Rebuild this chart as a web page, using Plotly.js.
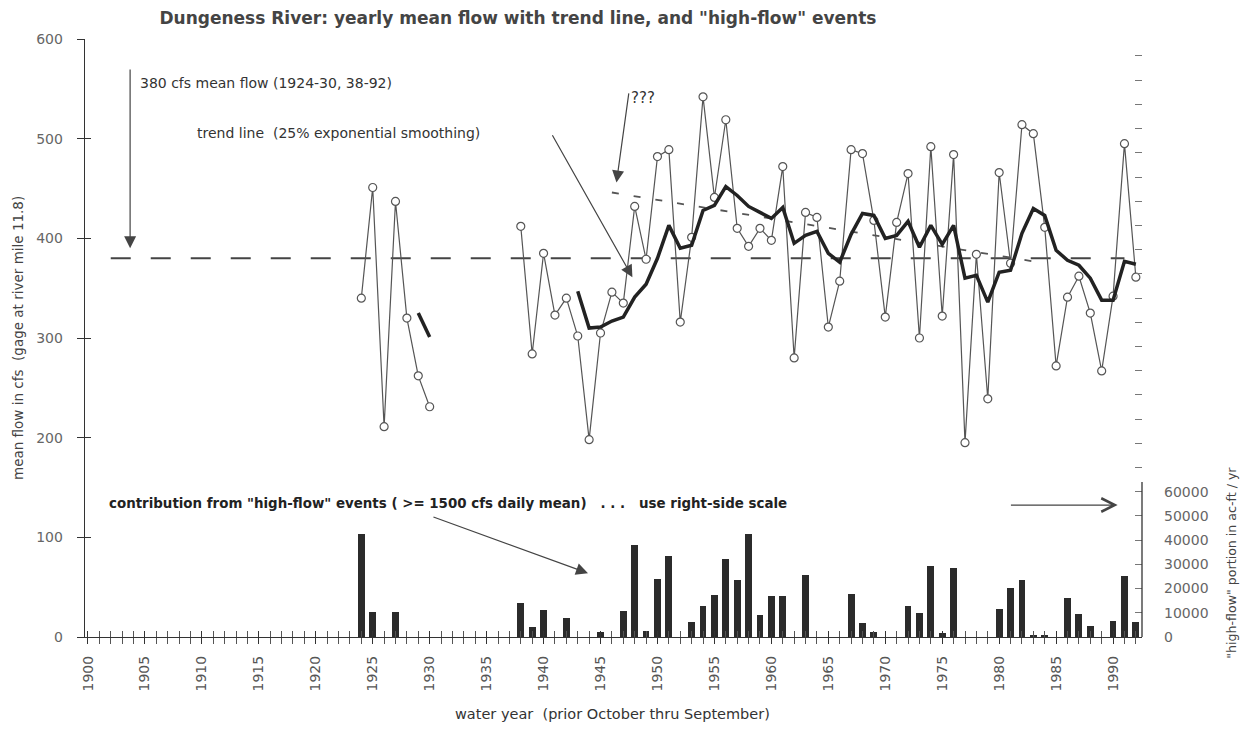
<!DOCTYPE html>
<html>
<head>
<meta charset="utf-8">
<script src="https://cdn.plot.ly/plotly-3.0.1.min.js"></script>
<style>html,body{margin:0;padding:0;background:#fff}#chart{width:1243px;height:729px}</style>
</head>
<body>
<div id="chart"></div>
<script>
// ---- data ----
const flowYears = [1924,1925,1926,1927,1928,1929,1930,1931,1932,1933,1934,1935,1936,1937,
  1938,1939,1940,1941,1942,1943,1944,1945,1946,1947,1948,1949,1950,1951,1952,1953,1954,1955,
  1956,1957,1958,1959,1960,1961,1962,1963,1964,1965,1966,1967,1968,1969,1970,1971,1972,1973,
  1974,1975,1976,1977,1978,1979,1980,1981,1982,1983,1984,1985,1986,1987,1988,1989,1990,1991,1992];
const meanFlow = [340,451,211,437,320,262,231,null,null,null,null,null,null,null,
  412,284,385,323,340,302,198,305,346,335,432,379,482,489,316,401,542,441,
  519,410,392,410,398,472,280,426,421,311,357,489,485,418,321,416,465,300,
  492,322,484,195,384,239,466,375,514,505,411,272,341,362,325,267,342,495,361];

const trendYearsA = [1929,1930];
const trendA = [325,301];
const trendYearsB = [1943,1944,1945,1946,1947,1948,1949,1950,1951,1952,1953,1954,1955,1956,1957,
  1958,1959,1960,1961,1962,1963,1964,1965,1966,1967,1968,1969,1970,1971,1972,1973,1974,1975,
  1976,1977,1978,1979,1980,1981,1982,1983,1984,1985,1986,1987,1988,1989,1990,1991,1992];
const trendB = [347,310,311,317,321,341,354,380,413,390,393,428,433,452,443,
  432,426,420,431,395,403,407,385,376,404,425,423,400,403,417,391,413,394,
  413,360,363,336,366,368,405,430,423,388,378,373,360,338,338,377,374];

const meanLineYears = [1902,1991];
const meanLineValue = [380,380];
const linTrendYears = [1946,1984];
const linTrendValues = [446,375];

const highFlowYears = [1924,1925,1927,1938,1939,1940,1942,1945,1947,1948,1949,1950,1951,1953,1954,
  1955,1956,1957,1958,1959,1960,1961,1963,1967,1968,1969,1972,1973,1974,1975,1976,1980,1981,
  1982,1983,1984,1986,1987,1988,1990,1991,1992];
const highFlow = [42600,10200,10200,13900,4000,11300,7900,1900,10800,38000,2600,24000,33400,6100,12700,
  17400,32300,23700,42600,9100,17100,17100,25700,17800,5700,1900,12700,9800,29200,1500,28400,11600,20100,
  23700,1000,1000,16000,9500,4700,6800,25100,6100];

const leftTicks = [0,100,200,300,400,500,600];
const rightTickLabels = ['0','10000','20000','30000','40000','50000','60000'];

// ---- build ----
const ink = '#333';
const FONT = 'DejaVu Sans';

const rightVals = [], rightText = [];
for (let v = 0; v <= 240000; v += 10000) {
  rightVals.push(v);
  const i = v / 10000;
  rightText.push(i < rightTickLabels.length ? rightTickLabels[i] : '');
}

const xRange = [1899.74, 1992.54];

const traces = [
  { type:'bar', x: highFlowYears, y: highFlow, yaxis:'y2', width:0.6,
    marker:{color:'#2b2b2b', line:{width:0}}, hoverinfo:'skip' },
  { type:'scatter', mode:'lines', x: meanLineYears, y: meanLineValue,
    line:{color:'#444', width:2, dash:'20px,20px'}, hoverinfo:'skip' },
  { type:'scatter', mode:'lines', x: linTrendYears, y: linTrendValues,
    line:{color:'#555', width:1.8, dash:'7px,15px'}, hoverinfo:'skip' },
  { type:'scatter', mode:'lines+markers', x: flowYears, y: meanFlow, connectgaps:false,
    line:{color:'#555', width:1.2},
    marker:{symbol:'circle', size:8, color:'#fff', line:{color:'#555', width:1.2}} },
  { type:'scatter', mode:'lines', x: trendYearsA, y: trendA, line:{color:'#222', width:3.5} },
  { type:'scatter', mode:'lines', x: trendYearsB, y: trendB, line:{color:'#222', width:3.5} },
  { type:'scatter', mode:'lines', x: [], y: [], xaxis:'x2', yaxis:'y3', hoverinfo:'skip' }
];

function arrow(hx, hy, tx, ty, head, size) {
  return { x:hx, y:hy, ax:tx, ay:ty, xref:'x', yref:'y', axref:'x', ayref:'y', text:'',
    showarrow:true, arrowhead:head, arrowsize:size, arrowwidth:1.2, arrowcolor:'#444', standoff:0 };
}

const annotations = [
  arrow(1903.7, 390, 1903.7, 571, 2, 2),
  arrow(1947.8, 361, 1940.7, 505, 2, 2),
  arrow(1946.4, 456, 1947.5, 547, 2, 2),
  arrow(1943.9, 64, 1930.2, 121, 2, 2),
  arrow(1990.4, 132.4, 1980.9, 132.4, 5, 2.2),
  { x:1904.4, y:555.7, xref:'x', yref:'y', xanchor:'left', yanchor:'middle', showarrow:false,
    text:'380 cfs mean flow (1924-30, 38-92)', font:{family:FONT, size:14, color:ink} },
  { x:1909.4, y:505.5, xref:'x', yref:'y', xanchor:'left', yanchor:'middle', showarrow:false,
    text:'trend line  (25% exponential smoothing)', font:{family:FONT, size:14, color:ink} },
  { x:1948.7, y:541, xref:'x', yref:'y', xanchor:'center', yanchor:'middle', showarrow:false,
    text:'???', font:{family:FONT, size:15, color:ink} },
  { x:1901.7, y:134.4, xref:'x', yref:'y', xanchor:'left', yanchor:'middle', showarrow:false,
    text:'contribution from "high-flow" events ( >= 1500 cfs daily mean)   . . .   use right-side scale',
    font:{family:FONT, size:13.4, color:'#222', weight:'bold'} },
  { x:-0.0634, y:0.5, xref:'paper', yref:'paper', xanchor:'center', yanchor:'middle', showarrow:false,
    textangle:-90, text:'mean flow in cfs  (gage at river mile 11.8)', font:{family:FONT, size:13.5, color:'#444'} },
  { x:1.085, y:0.124, xref:'paper', yref:'paper', xanchor:'center', yanchor:'middle', showarrow:false,
    textangle:-90, text:'"high-flow" portion in ac-ft / yr', font:{family:FONT, size:12.6, color:'#444'} },
  { x:0.4986, y:-0.1288, xref:'paper', yref:'paper', xanchor:'center', yanchor:'middle', showarrow:false,
    text:'water year  (prior October thru September)', font:{family:FONT, size:14.5, color:'#333'} }
];

const layout = {
  width:1243, height:729,
  margin:{l:85, r:101, t:39, b:92, pad:0},
  paper_bgcolor:'#fff', plot_bgcolor:'#fff',
  showlegend:false,
  bargap:0,
  font:{family:FONT, color:'#555'},
  title:{ text:'Dungeness River: yearly mean flow with trend line, and "high-flow" events',
    x:0.4167, xref:'container', xanchor:'center', y:0.975, yref:'container', yanchor:'middle',
    font:{family:FONT, size:17, color:'#444', weight:'bold'} },
  xaxis:{ range:xRange, showgrid:false, zeroline:false, showline:true, linecolor:'#333', linewidth:1.3,
    tickmode:'linear', tick0:1900, dtick:5, ticks:'outside', ticklen:6, tickcolor:'#333', tickwidth:1,
    tickangle:-90, tickfont:{family:FONT, size:14, color:'#555'}, ticklabelstandoff:6,
    minor:{dtick:1, tick0:1900, ticks:'outside', ticklen:6, tickcolor:'#555', tickwidth:1} },
  xaxis2:{ range:xRange, overlaying:'x', anchor:'y3', showgrid:false, zeroline:false, showline:false,
    showticklabels:false, tickmode:'linear', tick0:1900, dtick:5, ticks:'inside', ticklen:6, tickcolor:'#333',
    minor:{dtick:1, tick0:1900, ticks:'inside', ticklen:6, tickcolor:'#555', tickwidth:1} },
  yaxis:{ range:[0,600], showgrid:false, zeroline:false, showline:true, linecolor:'#333', linewidth:1.3,
    tickmode:'array', tickvals:leftTicks, ticks:'outside', ticklen:7, tickcolor:'#333',
    tickfont:{family:FONT, size:14, color:'#666'}, ticklabelstandoff:11 },
  yaxis3:{ range:[0,600], overlaying:'y', side:'left', showgrid:false, zeroline:false, showline:false,
    showticklabels:false, tickmode:'array', tickvals:leftTicks, ticks:'inside', ticklen:6, tickcolor:'#333' },
  yaxis2:{ range:[0,247000], overlaying:'y', side:'right', showgrid:false, zeroline:false, showline:false,
    tickmode:'array', tickvals:rightVals, ticktext:rightText, ticks:'inside', ticklen:7, tickcolor:'#777',
    tickfont:{family:FONT, size:14, color:'#666'}, ticklabelstandoff:21 },
  shapes:[
    { type:'line', xref:'paper', x0:1, x1:1, yref:'y2', y0:0, y1:64000, line:{color:'#333', width:1.3} }
  ],
  annotations: annotations
};

Plotly.newPlot('chart', traces, layout, {displayModeBar:false, staticPlot:true});
</script>
</body>
</html>
